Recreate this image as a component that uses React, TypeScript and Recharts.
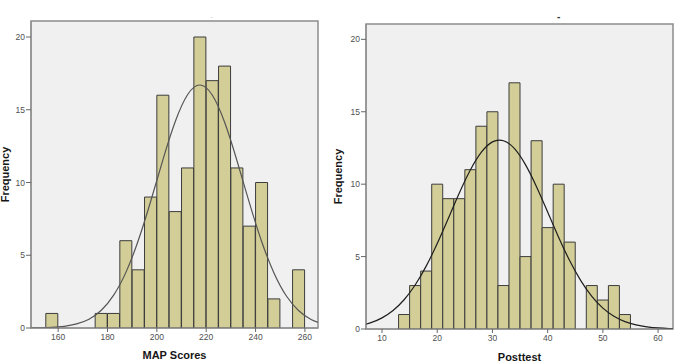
import {
  Bar,
  CartesianGrid,
  ComposedChart,
  Line,
  ReferenceArea,
  XAxis,
  YAxis,
} from "recharts";

// MAP Scores histogram: bins of 5 starting at 155
const MAP_FIRST_BIN = 155;
const MAP_BIN_WIDTH = 5;
const MAP_COUNTS = [1, 0, 0, 0, 1, 1, 6, 4, 9, 16, 8, 11, 20, 17, 18, 11, 7, 10, 2, 0, 4];
const MAP_X_TICKS = [160, 180, 200, 220, 240, 260];
const MAP_X_DOMAIN: [number, number] = [149, 265.3];
// fitted normal curve (frequency scale)
const MAP_CURVE_X = [
  147.5, 152.5, 157.5, 162.5, 167.5, 172.5, 177.5, 182.5, 187.5, 192.5, 197.5, 202.5, 207.5,
  212.5, 217.5, 222.5, 227.5, 232.5, 237.5, 242.5, 247.5, 252.5, 257.5, 262.5, 267.5,
];
const MAP_CURVE_Y = [
  0.005, 0.016, 0.046, 0.118, 0.279, 0.607, 1.22, 2.26, 3.84, 6.03, 8.71, 11.59, 14.21,
  16.05, 16.7, 16.0, 14.12, 11.48, 8.6, 5.93, 3.77, 2.2, 1.19, 0.59, 0.27,
];

// Posttest histogram: bins of 2 starting at 13
const POST_FIRST_BIN = 13;
const POST_BIN_WIDTH = 2;
const POST_COUNTS = [1, 3, 4, 10, 9, 9, 11, 14, 15, 3, 17, 5, 13, 7, 10, 6, 0, 3, 2, 3, 1];
const POST_X_TICKS = [10, 20, 30, 40, 50, 60];
const POST_X_DOMAIN: [number, number] = [7.1, 62.7];
const POST_CURVE_X = [
  6, 8, 10, 12, 14, 16, 18, 20, 22, 24, 26, 28, 30, 32, 34, 36, 38, 40, 42, 44, 46, 48, 50,
  52, 54, 56, 58, 60, 62, 64,
];
const POST_CURVE_Y = [
  0.24, 0.44, 0.77, 1.28, 2.02, 3.04, 4.34, 5.9, 7.63, 9.39, 10.98, 12.21, 12.92, 13.0,
  12.45, 11.33, 9.81, 8.08, 6.32, 4.71, 3.34, 2.25, 1.44, 0.88, 0.51, 0.28, 0.15, 0.073,
  0.035, 0.016,
];

const FREQ_TICKS = [0, 5, 10, 15, 20];

const BAR_FILL = "#D3CE97";
const BAR_STROKE = "#3c3c3c";
const FRAME = "#8c8c8c";
const PLOT_BG = "#F0F0F0";
const TICK_STYLE = { fontSize: 8.5, fill: "#505050" };
const TITLE_STYLE = { fontSize: 11, fontWeight: "bold", fill: "#161616" };

type Row = { x: number; count: number | null; curve: number | null };

function buildRows(
  firstBin: number,
  binWidth: number,
  counts: number[],
  curveX: number[],
  curveY: number[],
): Row[] {
  const rows = new Map<number, Row>();
  counts.forEach((count, i) => {
    const x = firstBin + binWidth * (i + 0.5);
    rows.set(x, { x, count, curve: null });
  });
  curveX.forEach((x, i) => {
    const row = rows.get(x);
    if (row) row.curve = curveY[i];
    else rows.set(x, { x, count: null, curve: curveY[i] });
  });
  return [...rows.values()].sort((a, b) => a.x - b.x);
}

type HistProps = {
  rows: Row[];
  left: number;
  width: number;
  top: number;
  right: number;
  yAxisWidth: number;
  xAxisHeight: number;
  xDomain: [number, number];
  yMax: number;
  xTicks: number[];
  xLabel: string;
  xLabelOffset: number;
  yLabelOffset: number;
  curveColor: string;
};

function Histogram(p: HistProps) {
  return (
    <div style={{ position: "absolute", left: p.left, top: 0 }}>
      <ComposedChart
        width={p.width}
        height={364}
        data={p.rows}
        margin={{ top: p.top, right: p.right, bottom: 0, left: 0 }}
        barCategoryGap={0}
        barGap={0}
      >
        <CartesianGrid horizontal={false} vertical={false} fill={PLOT_BG} />
        <XAxis
          type="number"
          dataKey="x"
          domain={p.xDomain}
          allowDataOverflow
          ticks={p.xTicks}
          interval={0}
          height={p.xAxisHeight}
          tick={TICK_STYLE}
          tickSize={4}
          tickMargin={2}
          axisLine={{ stroke: FRAME }}
          tickLine={{ stroke: "#666" }}
          label={{
            value: p.xLabel,
            position: "insideBottom",
            offset: p.xLabelOffset,
            style: TITLE_STYLE,
          }}
        />
        <YAxis
          type="number"
          domain={[0, p.yMax]}
          allowDataOverflow
          ticks={FREQ_TICKS}
          interval={0}
          width={p.yAxisWidth}
          tick={TICK_STYLE}
          tickSize={5}
          tickMargin={1}
          axisLine={{ stroke: FRAME }}
          tickLine={{ stroke: "#666" }}
          label={{
            value: "Frequency",
            angle: -90,
            position: "insideLeft",
            offset: p.yLabelOffset,
            style: { ...TITLE_STYLE, textAnchor: "middle" },
          }}
        />
        <ReferenceArea
          x1={p.xDomain[0]}
          x2={p.xDomain[1]}
          y1={0}
          y2={p.yMax}
          fill="none"
          stroke={FRAME}
          strokeWidth={1.5}
          ifOverflow="visible"
        />
        <Bar
          dataKey="count"
          fill={BAR_FILL}
          stroke={BAR_STROKE}
          strokeWidth={1}
          isAnimationActive={false}
        />
        <Line
          dataKey="curve"
          type="natural"
          stroke={p.curveColor}
          strokeWidth={1.2}
          dot={false}
          activeDot={false}
          connectNulls
          isAnimationActive={false}
        />
      </ComposedChart>
    </div>
  );
}

export default function App() {
  const mapRows = buildRows(MAP_FIRST_BIN, MAP_BIN_WIDTH, MAP_COUNTS, MAP_CURVE_X, MAP_CURVE_Y);
  const postRows = buildRows(POST_FIRST_BIN, POST_BIN_WIDTH, POST_COUNTS, POST_CURVE_X, POST_CURVE_Y);

  return (
    <div
      style={{
        position: "absolute",
        left: 0,
        top: 0,
        width: 676,
        height: 364,
        background: "#fff",
        fontFamily: "'Liberation Sans', Arial, sans-serif",
        overflow: "hidden",
      }}
    >
      <Histogram
        rows={mapRows}
        left={0}
        width={328}
        top={21}
        right={10}
        yAxisWidth={31}
        xAxisHeight={36}
        xDomain={MAP_X_DOMAIN}
        yMax={21.1}
        xTicks={MAP_X_TICKS}
        xLabel="MAP Scores"
        xLabelOffset={5}
        yLabelOffset={5.5}
        curveColor="#555"
      />
      <Histogram
        rows={postRows}
        left={328}
        width={348}
        top={24}
        right={3}
        yAxisWidth={38}
        xAxisHeight={35}
        xDomain={POST_X_DOMAIN}
        yMax={21.06}
        xTicks={POST_X_TICKS}
        xLabel="Posttest"
        xLabelOffset={3.5}
        yLabelOffset={10.3}
        curveColor="#1e1e1e"
      />
      <div style={{ position: "absolute", left: 210, top: 12, fontSize: 8, color: "#c8c8c8" }}>-</div>
      <div style={{ position: "absolute", left: 557, top: 11, fontSize: 10, fontWeight: "bold", color: "#333" }}>-</div>
    </div>
  );
}
